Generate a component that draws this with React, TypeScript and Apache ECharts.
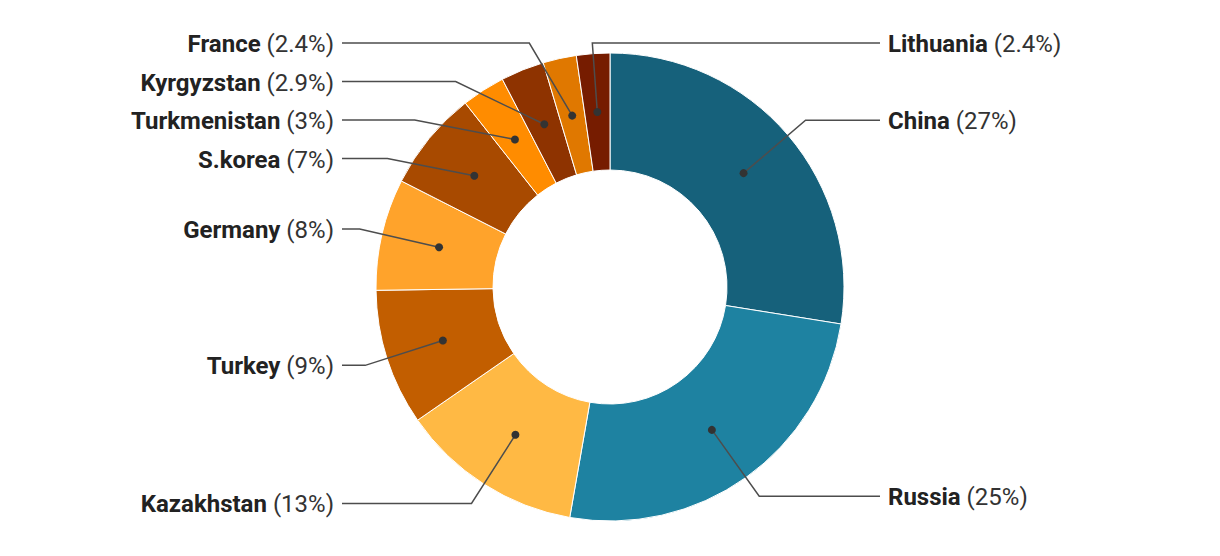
import React, { useEffect, useRef } from "react";
import * as echarts from "echarts";

const names = ["China", "Russia", "Kazakhstan", "Turkey", "Germany", "S.korea", "Turkmenistan", "Kyrgyzstan", "France", "Lithuania"];
const values = [27.5, 25.2, 12.6, 9.4, 7.7, 6.9, 3.0, 3.0, 2.3, 2.3];
const pctLabels = ["27%", "25%", "13%", "9%", "8%", "7%", "3%", "2.9%", "2.4%", "2.4%"];
const colors = ["#16617b", "#1e82a1", "#ffb944", "#c25e00", "#ffa32b", "#a84a00", "#ff8c00", "#8e3300", "#e07800", "#761c00"];

const CX = 610;
const CY = 287;
const R0 = 117;
const R1 = 234;
const DOT_R = 175.5;
const ELBOW_R = 257;
const LINE_RIGHT_X = 880;
const LINE_LEFT_X = 342;
const TEXT_GAP = 8;
const MIN_Y = 43;
const SPACING = 38.5;

type LabelGeom = { side: number; dotX: number; dotY: number; ex: number; y: number; x3: number; a: number };

function computeLayout(): LabelGeom[] {
  const total = values.reduce((s, v) => s + v, 0);
  let acc = 0;
  const out: LabelGeom[] = values.map((v) => {
    const a = ((acc + v / 2) / total) * Math.PI * 2;
    acc += v;
    const s = Math.sin(a);
    const side = s >= 0 || a > Math.PI * 2 - (5 * Math.PI) / 180 ? 1 : -1;
    return {
      side,
      a,
      dotX: CX + DOT_R * Math.sin(a),
      dotY: CY - DOT_R * Math.cos(a),
      ex: 0,
      y: Math.max(MIN_Y, CY - ELBOW_R * Math.cos(a)),
      x3: side > 0 ? LINE_RIGHT_X : LINE_LEFT_X,
    };
  });
  [1, -1].forEach((side) => {
    const idx = out.map((g, i) => i).filter((i) => out[i].side === side).sort((p, q) => out[p].y - out[q].y);
    for (let k = 1; k < idx.length; k++) {
      const prev = out[idx[k - 1]];
      const cur = out[idx[k]];
      if (cur.y < prev.y + SPACING) cur.y = prev.y + SPACING;
    }
  });
  out.forEach((g) => {
    const sliceSide = Math.sin(g.a) >= 0 ? 1 : -1;
    const dy = g.y - CY;
    if (sliceSide === g.side && Math.abs(dy) <= ELBOW_R) {
      g.ex = CX + g.side * Math.sqrt(ELBOW_R * ELBOW_R - dy * dy);
    } else {
      g.ex = g.dotX + (g.y - g.dotY) * (Math.sin(g.a) / -Math.cos(g.a));
    }
  });
  return out;
}

export default function App() {
  const ref = useRef<HTMLDivElement>(null);
  useEffect(() => {
    if (!ref.current) return;
    const chart = echarts.init(ref.current, undefined, { renderer: "svg" });
    const geom = computeLayout();
    const font = "Roboto, 'Noto Sans', sans-serif";
    chart.setOption({
      animation: false,
      series: [
        {
          type: "pie",
          center: [CX, CY],
          radius: [R0, R1],
          startAngle: 90,
          clockwise: true,
          avoidLabelOverlap: false,
          emphasis: { disabled: true },
          itemStyle: { borderColor: "#ffffff", borderWidth: 1 },
          label: {
            show: true,
            position: "outside",
            formatter: (p: any) => `{n|${p.name}}{p| (${pctLabels[p.dataIndex]})}`,
            rich: {
              n: { fontFamily: font, fontSize: 24, fontWeight: "bold", color: "#222222" },
              p: { fontFamily: font, fontSize: 24, fontWeight: "normal", color: "#333333" },
            },
          },
          labelLine: { show: false },
          labelLayout: (params: any) => {
            const g = geom[params.dataIndex];
            return {
              x: g.side > 0 ? g.x3 + TEXT_GAP : g.x3 - TEXT_GAP,
              y: g.y + 1,
              align: g.side > 0 ? "left" : "right",
              verticalAlign: "middle",
            };
          },
          data: names.map((n, i) => ({ name: n, value: values[i], itemStyle: { color: colors[i] } })),
        },
        {
          type: "custom",
          coordinateSystem: "none",
          silent: true,
          z: 10,
          data: names.map((_, i) => [i]),
          renderItem: (_params: any, api: any) => {
            const g = geom[api.value(0)];
            return {
              type: "group",
              children: [
                {
                  type: "polyline",
                  shape: { points: [[g.dotX, g.dotY], [g.ex, g.y], [g.x3, g.y]] },
                  style: { stroke: "#4d4d4d", lineWidth: 1.5, fill: null },
                },
                { type: "circle", shape: { cx: g.dotX, cy: g.dotY, r: 4 }, style: { fill: "#333333" } },
              ],
            };
          },
        },
      ],
    });
    return () => chart.dispose();
  }, []);
  return <div ref={ref} style={{ position: "absolute", left: 0, top: 0, width: 1220, height: 556 }} />;
}
